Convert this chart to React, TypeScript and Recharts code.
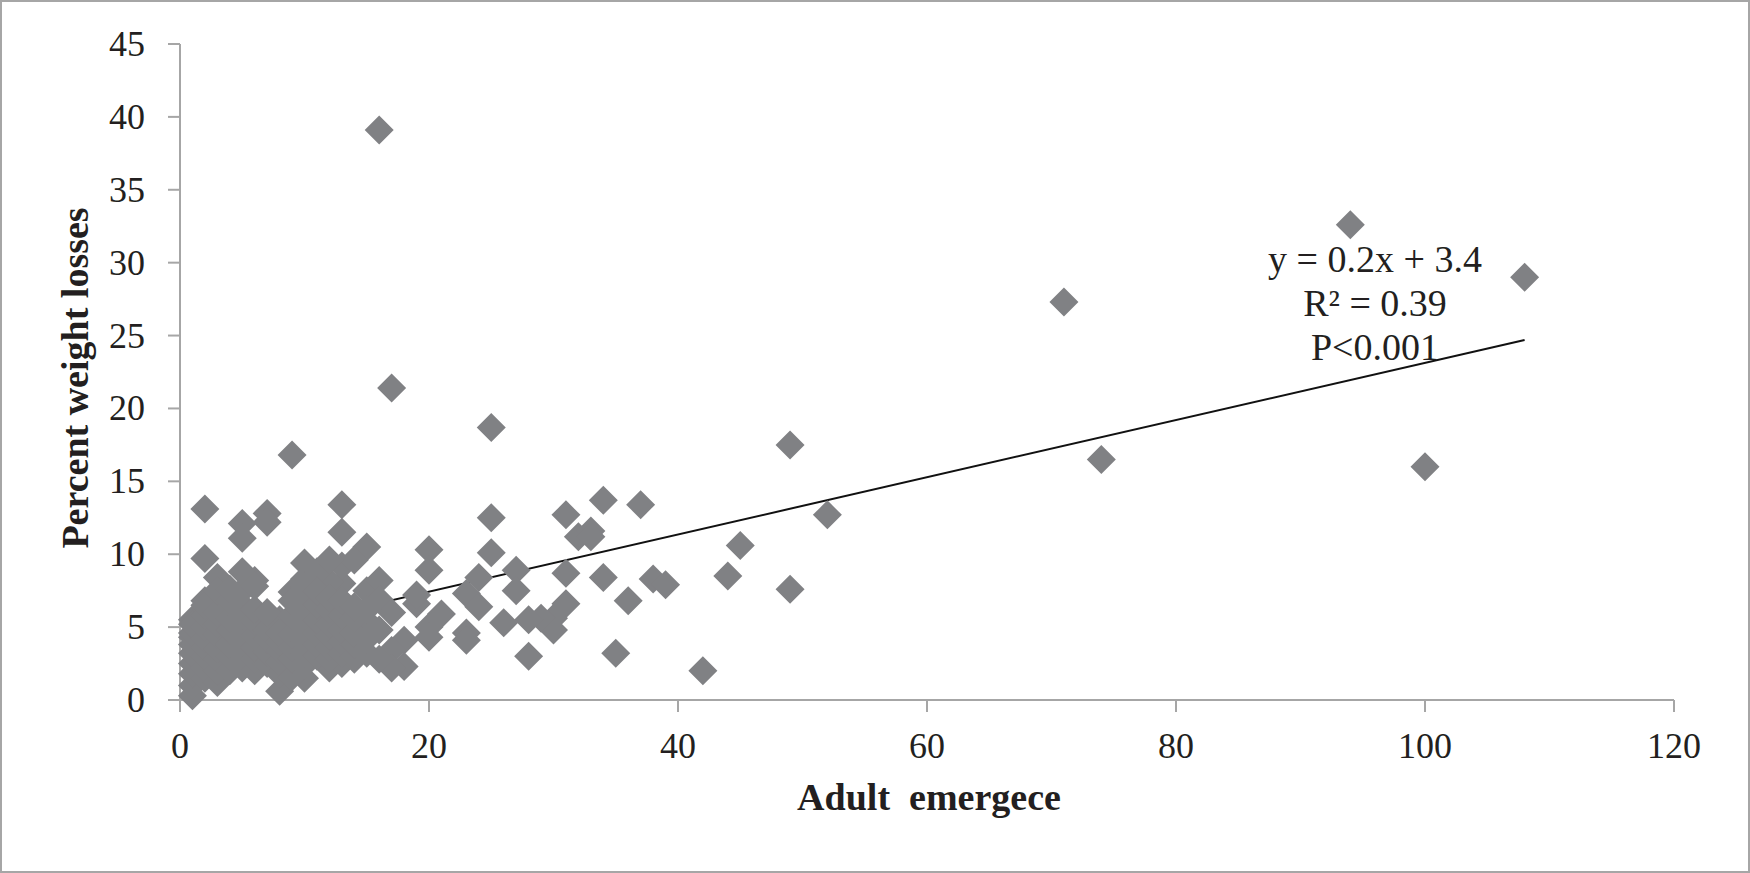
import React from "react";
import {
  ScatterChart,
  Scatter,
  XAxis,
  YAxis,
  ReferenceLine,
} from "recharts";

// adult emergence (x) and percent weight loss (y)
const emergence = [
  16, 94, 108, 71, 17, 25, 49, 9, 74, 100, 52, 45, 44, 49, 42, 37, 34, 31, 32, 33,
  33, 38, 39, 34, 31, 36, 35, 31, 30, 30, 29, 28, 28, 26, 27, 27, 25, 25, 24, 23,
  24, 23, 23, 21, 20, 20, 20, 20, 19, 19, 18, 18, 17, 17, 16, 15, 15, 16, 16, 17,
  16, 15, 13, 13, 13, 13, 12, 11, 10, 10, 9, 8, 7, 7, 5, 5, 2, 2, 6, 5,
  3, 3, 2, 1, 1, 1, 8, 9, 10, 12, 13, 14, 3, 4, 6, 5, 14, 12, 10,
  1, 1, 1, 1, 1, 1, 1,
  2, 2, 2, 2, 2, 2, 2, 2,
  3, 3, 3, 3, 3, 3, 3, 3,
  4, 4, 4, 4, 4, 4, 4,
  5, 5, 5, 5, 5, 5, 5,
  6, 6, 6, 6, 6, 6, 6,
  7, 7, 7, 7, 7,
  8, 8, 8, 8, 8,
  9, 9, 9, 9, 9, 9,
  10, 10, 10, 10, 10, 10, 10,
  11, 11, 11, 11, 11, 11,
  12, 12, 12, 12, 12, 12,
  13, 13, 13, 13, 13,
  14, 14, 14, 14, 14,
  15, 15, 15,
];

const weightLoss = [
  39.1, 32.6, 29.0, 27.3, 21.4, 18.7, 17.5, 16.8, 16.5, 16.0, 12.7, 10.6, 8.5, 7.6, 2.0, 13.4, 13.7, 12.7, 11.2, 11.6,
  11.2, 8.3, 7.9, 8.4, 8.7, 6.8, 3.2, 6.6, 5.6, 4.8, 5.6, 5.5, 3.0, 5.3, 8.9, 7.5, 12.5, 10.1, 8.4, 7.3,
  6.4, 4.6, 4.1, 5.9, 5.0, 10.3, 8.9, 4.3, 6.6, 7.2, 2.3, 4.1, 3.4, 2.2, 2.8, 10.5, 7.5, 8.2, 6.9, 6.0,
  4.8, 5.4, 13.4, 11.5, 8.0, 9.2, 8.1, 8.8, 8.3, 6.4, 7.4, 5.5, 12.8, 12.2, 12.1, 11.1, 13.1, 9.7, 8.2, 8.8,
  8.4, 7.0, 6.8, 5.5, 4.3, 0.3, 0.6, 2.2, 1.5, 2.2, 2.5, 2.8, 1.5, 2.3, 2.4, 2.8, 9.6, 9.6, 9.4,
  1.0, 1.8, 2.5, 3.2, 3.8, 4.6, 5.2,
  1.5, 2.2, 3.0, 3.6, 4.2, 5.0, 5.8, 6.5,
  1.2, 2.0, 2.8, 3.5, 4.5, 5.2, 6.0, 7.5,
  2.0, 3.0, 3.8, 4.8, 5.6, 6.8, 7.6,
  2.2, 3.2, 4.0, 5.0, 5.8, 6.5, 7.5,
  2.0, 2.8, 3.6, 4.4, 5.4, 6.2, 7.8,
  2.5, 3.3, 4.2, 4.8, 6.0,
  1.8, 2.6, 3.4, 4.0, 4.6,
  1.6, 2.8, 3.6, 4.5, 5.8, 6.8,
  2.4, 3.2, 4.0, 5.0, 5.8, 7.2, 7.8,
  3.0, 3.8, 4.6, 5.5, 6.5, 7.5,
  2.8, 3.6, 4.4, 5.2, 6.2, 7.0,
  3.2, 4.0, 4.8, 5.8, 6.8,
  3.0, 3.8, 4.6, 5.6, 6.4,
  3.2, 4.2, 6.2,
];

const xTicks = [0, 20, 40, 60, 80, 100, 120];
const yTicks = [0, 5, 10, 15, 20, 25, 30, 35, 40, 45];

// fitted line end points
const trendStart = { x: 1, y: 3.7 };
const trendEnd = { x: 108, y: 24.7 };

const fitLines = ["y = 0.2x + 3.4", "R\u00b2 = 0.39", "P<0.001"];

const points = emergence.map((x, i) => ({ x, y: weightLoss[i] }));

const FONT = '"Liberation Serif", "Times New Roman", serif';
const AXIS_GREY = "#a6a6a6";
const TEXT = "#231f20";

const Diamond = (props: any) => {
  const { cx, cy } = props;
  const r = 14.5;
  return (
    <polygon
      points={`${cx},${cy - r} ${cx + r},${cy} ${cx},${cy + r} ${cx - r},${cy}`}
      fill="#808184"
    />
  );
};

// tick labels drawn by hand so the serif font sticks
const XTick = (props: any) => {
  const { x, y, payload } = props;
  return (
    <text
      x={x}
      y={y + 26}
      textAnchor="middle"
      fontSize={36}
      fill={TEXT}
      fontFamily={FONT}
    >
      {payload.value}
    </text>
  );
};

const YTick = (props: any) => {
  const { x, y, payload } = props;
  return (
    <text
      x={x}
      y={y + 12}
      textAnchor="end"
      fontSize={36}
      fill={TEXT}
      fontFamily={FONT}
    >
      {payload.value}
    </text>
  );
};

export default function App() {
  return (
    <div
      style={{
        position: "absolute",
        left: 0,
        top: 0,
        width: 1750,
        height: 873,
        background: "#fff",
        fontFamily: FONT,
      }}
    >
      <ScatterChart
        width={1750}
        height={873}
        margin={{ top: 44, right: 76, bottom: 0, left: 0 }}
        style={{ fontFamily: FONT }}
      >
        <XAxis
          type="number"
          dataKey="x"
          domain={[0, 120]}
          ticks={xTicks}
          tickSize={12}
          tickMargin={20}
          height={173}
          axisLine={{ stroke: AXIS_GREY, strokeWidth: 2 }}
          tickLine={{ stroke: AXIS_GREY, strokeWidth: 2 }}
          tick={<XTick />}
        />
        <YAxis
          type="number"
          dataKey="y"
          domain={[0, 45]}
          ticks={yTicks}
          tickSize={12}
          tickMargin={23}
          width={180}
          axisLine={{ stroke: AXIS_GREY, strokeWidth: 2 }}
          tickLine={{ stroke: AXIS_GREY, strokeWidth: 2 }}
          tick={<YTick />}
        />
        <Scatter
          data={points}
          shape={Diamond}
          fill="#808184"
          isAnimationActive={false}
        />
        <ReferenceLine
          segment={[trendStart, trendEnd]}
          stroke="#111"
          strokeWidth={2}
        />
      </ScatterChart>

      <svg
        width={1750}
        height={873}
        style={{ position: "absolute", left: 0, top: 0, pointerEvents: "none" }}
      >
        <text
          transform="translate(88,378) rotate(-90)"
          textAnchor="middle"
          fontSize={38}
          fontWeight="bold"
          fill={TEXT}
          fontFamily={FONT}
        >
          Percent weight losses
        </text>
        <text
          x={929}
          y={810}
          textAnchor="middle"
          fontSize={38}
          fontWeight="bold"
          fill={TEXT}
          fontFamily={FONT}
          style={{ whiteSpace: "pre" }}
        >
          {"Adult  emergece"}
        </text>
        {fitLines.map((line, i) => (
          <text
            key={line}
            x={1375}
            y={272 + i * 44}
            textAnchor="middle"
            fontSize={38}
            fill={TEXT}
            fontFamily={FONT}
          >
            {line}
          </text>
        ))}
        <rect
          x={1}
          y={1}
          width={1748}
          height={871}
          fill="none"
          stroke={AXIS_GREY}
          strokeWidth={2}
        />
      </svg>
    </div>
  );
}
